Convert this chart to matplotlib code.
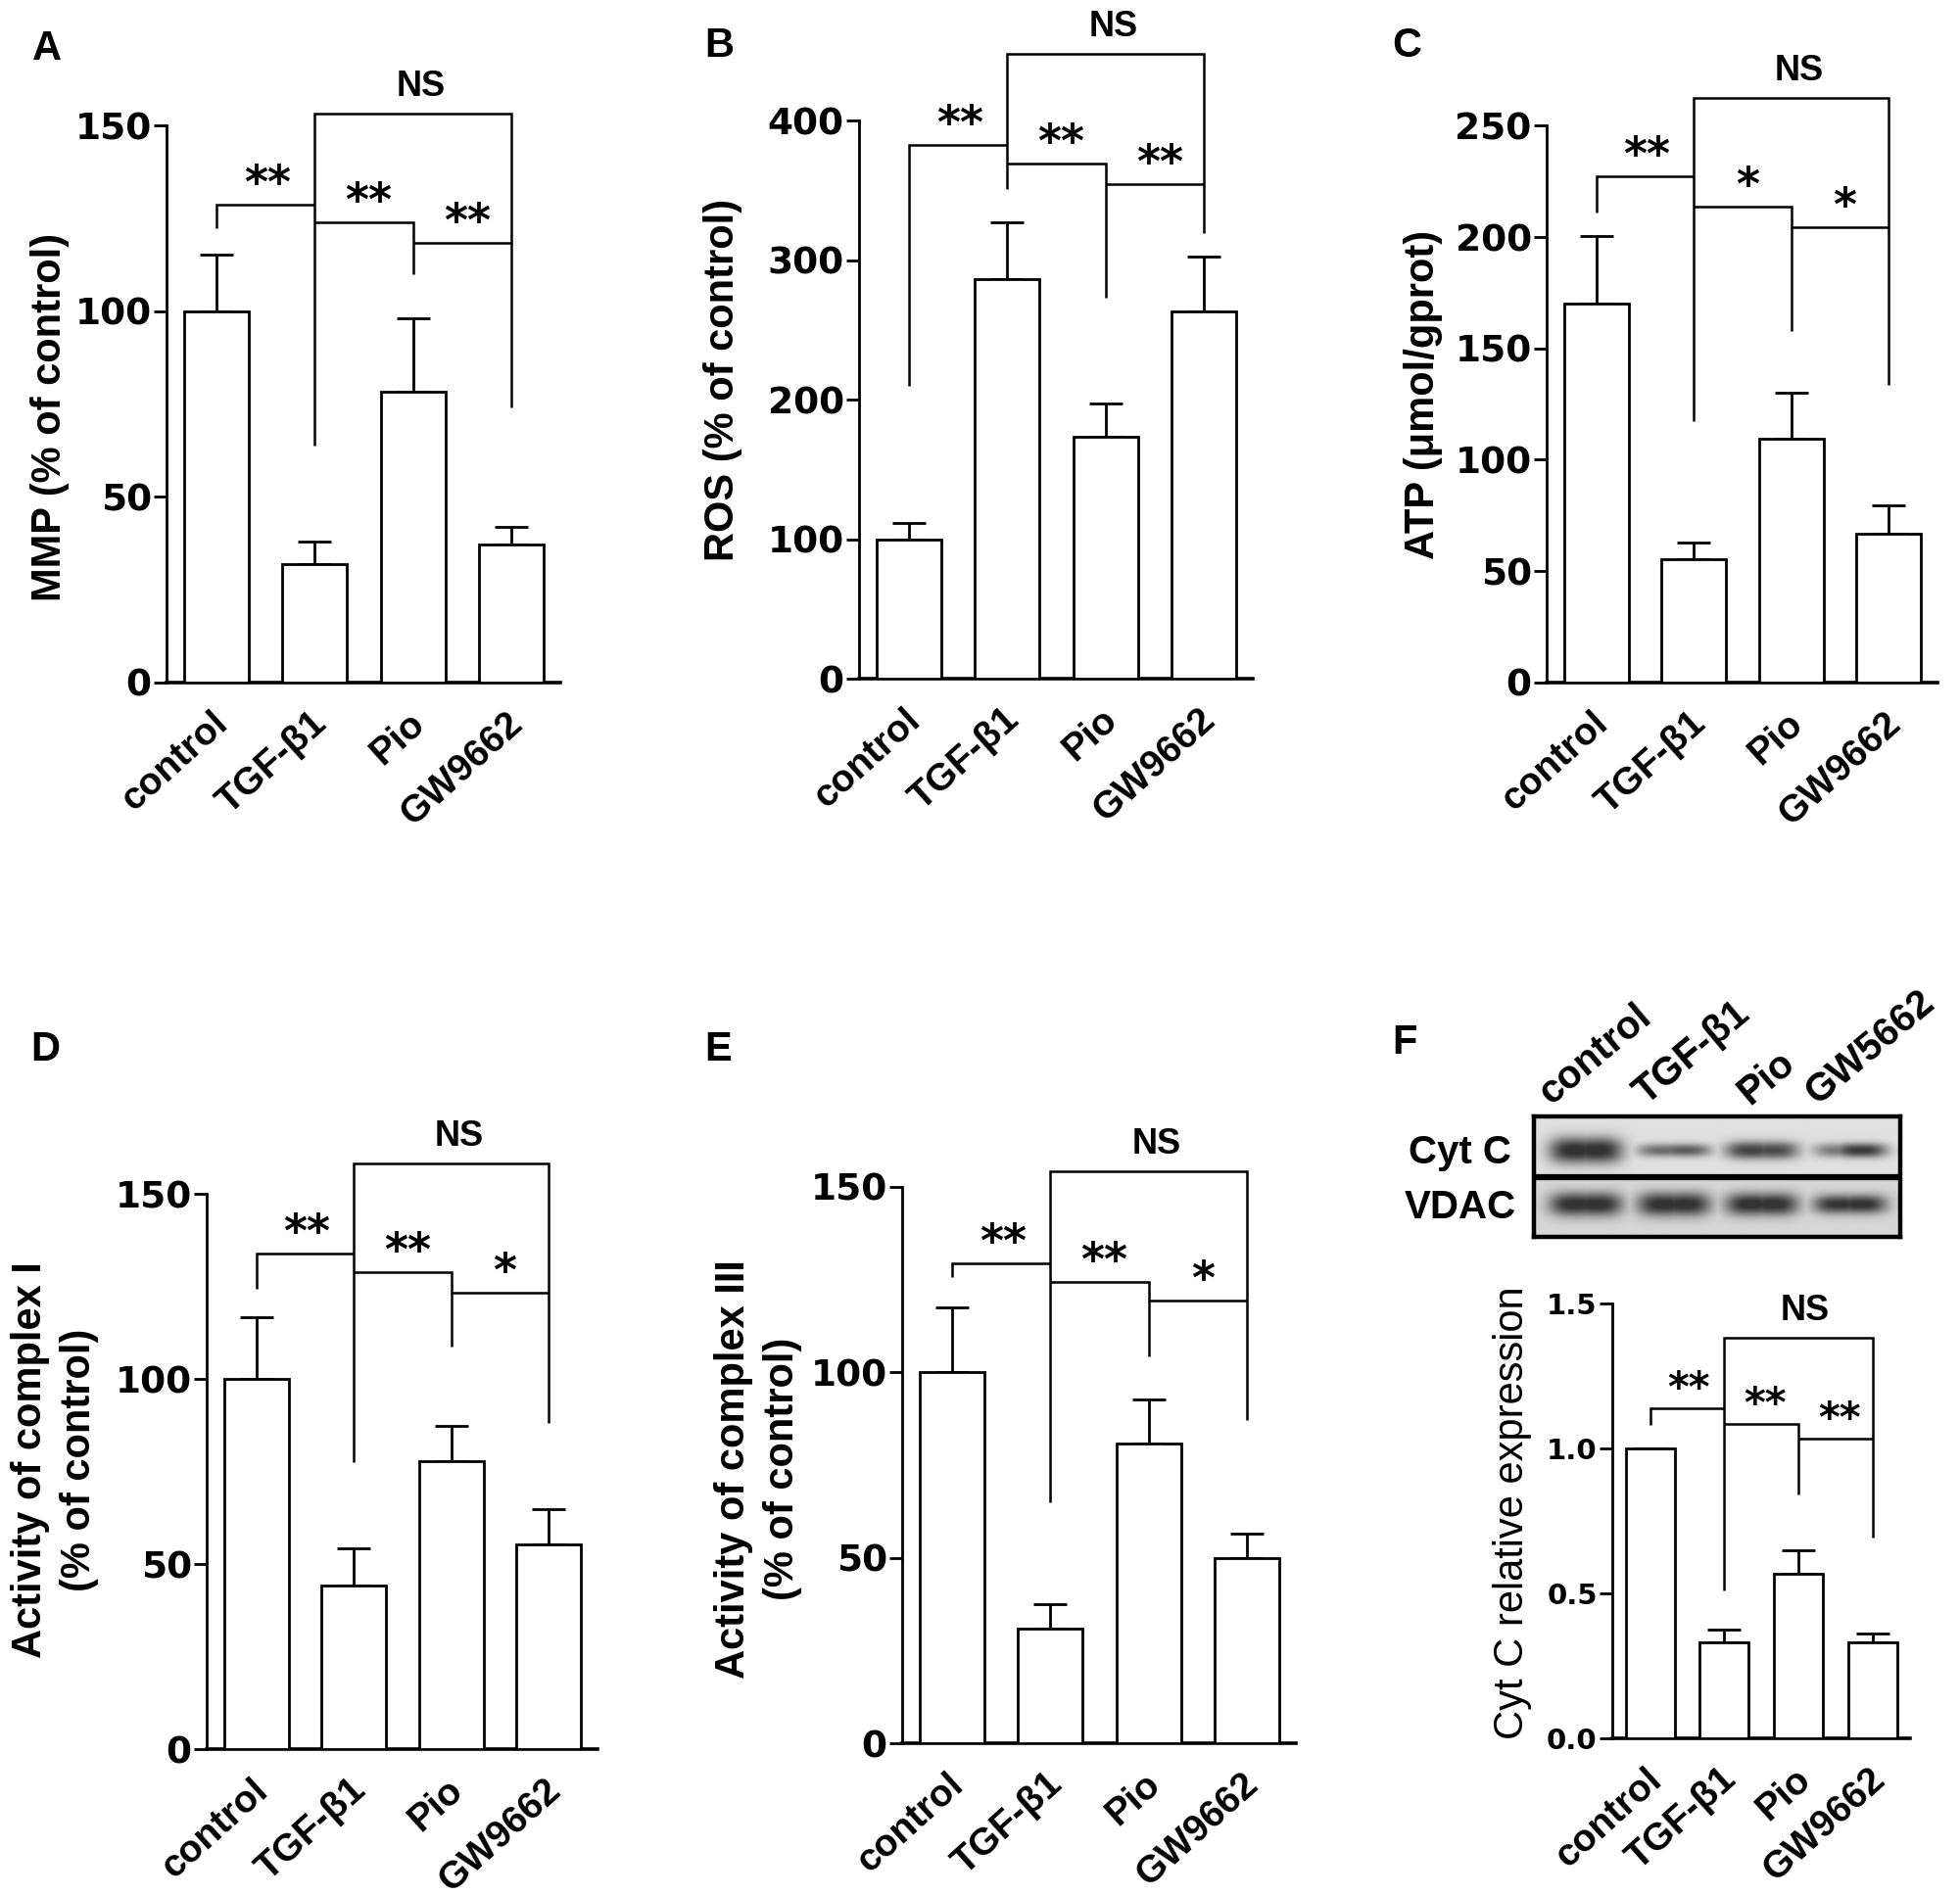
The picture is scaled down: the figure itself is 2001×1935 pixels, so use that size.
import numpy as np
import matplotlib
matplotlib.use('Agg')
import matplotlib.pyplot as plt
from matplotlib.transforms import ScaledTranslation

# ---------------- data ----------------
groups = ['control', 'TGF-β1', 'Pio', 'GW9662']
blot_lanes = ['control', 'TGF-β1', 'Pio', 'GW5662']

mmp_mean = [100, 31.9, 78.3, 37.2]
mmp_sem = [15.2, 6.1, 19.7, 4.8]
ros_mean = [100, 286.5, 173, 263.5]
ros_sem = [11.5, 40.5, 24, 39.2]
atp_mean = [169.9, 55.3, 109.3, 66.8]
atp_sem = [30.6, 7.4, 21.0, 12.8]
c1_mean = [100, 44.2, 77.7, 55.4]
c1_sem = [16.7, 10.0, 9.5, 9.5]
c3_mean = [100, 30.8, 80.8, 50.0]
c3_sem = [17.4, 6.6, 11.8, 6.6]
cytc_mean = [1.0, 0.332, 0.568, 0.332]
cytc_sem = [0.0, 0.043, 0.080, 0.031]

# significance marks: control-TGF, TGF-Pio, Pio-GW ; NS for TGF-GW
mmp_stars = ['**', '**', '**']
ros_stars = ['**', '**', '**']
atp_stars = ['**', '*', '*']
c1_stars = ['**', '**', '*']
c3_stars = ['**', '**', '*']
cytc_stars = ['**', '**', '**']

# bracket levels (data units): ns, tgf_bottom, gw_bottom, h1, ctrl_bottom, h2, pio_bottom, h3
mmp_brk = [153.2, 63.8, 74.2, 128.7, 122.5, 123.9, 110.1, 118.4]
ros_brk = [448, 351, 319, 382.7, 209.6, 369, 273, 354.6]
atp_brk = [262.3, 117.5, 133.7, 227.3, 211.2, 213.8, 158, 204.6]
c1_brk = [158.1, 77.4, 88.1, 133.9, 124.4, 128.8, 108.6, 123.3]
c3_brk = [154.1, 65.0, 87.1, 129.3, 125.7, 124.4, 104.4, 119.4]
cytc_brk = [1.382, 0.511, 0.694, 1.138, 1.082, 1.085, 0.842, 1.035]

# western blot band intensities (relative darkness)
cytc_left_amp = [0.97, 0.62, 0.84, 0.55]
cytc_right_amp = [0.97, 0.70, 0.80, 0.90]
cytc_thick = [0.22, 0.11, 0.15, 0.12]
vdac_left_amp = [0.97, 0.97, 0.97, 0.93]
vdac_right_amp = [0.97, 0.97, 0.97, 0.95]
vdac_thick = [0.20, 0.20, 0.19, 0.16]

W, H = 2001, 1935
fig = plt.figure(figsize=(W / 100, H / 100), dpi=100)
fig.patch.set_facecolor('white')

TXT = 'Liberation Sans'
NUM = 'DejaVu Sans'
STAR = 'DejaVu Sans'
LW = 2.0


def rect(left, right, zero, top):
    return [left / W, (H - zero) / H, (right - left) / W, (zero - top) / H]


def panel(r, mean, sem, ymax, ystep, stars, brk, ylabel, lab_xy, letter, letter_xy,
          tickfs=27, ylabfs=30, ylab_weight='bold', tickfmt=None, star_fs=33, ns_fs=26,
          linesp=1.2):
    ax = fig.add_axes(r)
    x = np.arange(len(groups))
    ax.bar(x, mean, width=0.66, color='white', edgecolor='black', linewidth=LW, zorder=3)
    ax.errorbar(x, mean, yerr=[np.zeros(len(sem)), sem], fmt='none', ecolor='black',
                elinewidth=LW, capsize=12, capthick=LW, zorder=2)
    ax.set_xlim(-0.51, 3.5)
    ax.set_ylim(0, ymax)
    for s in ['top', 'right']:
        ax.spines[s].set_visible(False)
    ax.spines['left'].set_linewidth(LW)
    ax.spines['bottom'].set_linewidth(LW + 0.6)
    ax.spines['left'].set_bounds(0, ymax)
    ticks = np.arange(0, ymax + ystep / 2, ystep)
    ax.set_yticks(ticks)
    if tickfmt:
        ax.set_yticklabels([tickfmt.format(t) for t in ticks])
    ax.tick_params(axis='y', length=9.5, width=LW, pad=1.5, labelsize=tickfs)
    for t in ax.get_yticklabels():
        t.set_fontweight('bold')
        t.set_family(NUM)
    ax.set_xticks(x)
    ax.set_xticklabels(groups, rotation=42, ha='right', va='top', rotation_mode='anchor',
                       fontsize=28, fontweight='bold', family=TXT)
    ax.tick_params(axis='x', length=0, pad=17)
    off = ScaledTranslation(-0.05, 0, fig.dpi_scale_trans)
    for t in ax.get_xticklabels():
        t.set_transform(t.get_transform() + off)

    # brackets
    ns, tgf_b, gw_b, h1, c_b, h2, p_b, h3 = brk
    kw = dict(color='black', lw=1.8, clip_on=False, solid_capstyle='butt',
              solid_joinstyle='miter', zorder=4)
    ax.plot([1, 1, 3, 3], [tgf_b, ns, ns, gw_b], **kw)
    ax.plot([0, 0, 1], [c_b, h1, h1], **kw)
    ax.plot([1, 2, 2], [h2, h2, p_b], **kw)
    ax.plot([2, 3], [h3, h3], **kw)
    for (xm, yl), s in zip([(0.52, h1), (1.55, h2), (2.55, h3)], stars):
        ax.annotate(s, xy=(xm, yl), xytext=(0, 5), textcoords='offset points',
                    ha='center', va='baseline', fontsize=star_fs, fontweight='bold',
                    family=STAR, annotation_clip=False)
    ax.annotate('NS', xy=(2.08, ns), xytext=(0, 13), textcoords='offset points',
                ha='center', va='baseline', fontsize=ns_fs, fontweight='bold',
                family=TXT, annotation_clip=False)

    fig.text(lab_xy[0] / W, 1 - lab_xy[1] / H, ylabel, rotation=90, ha='center',
             va='center', fontsize=ylabfs, fontweight=ylab_weight, family=TXT,
             linespacing=linesp, multialignment='center')
    fig.text(letter_xy[0] / W, 1 - letter_xy[1] / H, letter, ha='center', va='center',
             fontsize=30, fontweight='bold', family=TXT)
    return ax


panel(rect(170, 572, 696.7, 128.5), mmp_mean, mmp_sem, 150, 50, mmp_stars, mmp_brk,
      'MMP (% of control)', (51, 426), 'A', (48, 50))
panel(rect(877, 1279, 693, 123), ros_mean, ros_sem, 400, 100, ros_stars, ros_brk,
      'ROS (% of control)', (738, 388), 'B', (734, 47))
panel(rect(1579, 1978, 696.7, 128.4), atp_mean, atp_sem, 250, 50, atp_stars, atp_brk,
      'ATP (μmol/gprot)', (1453, 403), 'C', (1436, 47))
panel(rect(211, 610, 1786, 1219), c1_mean, c1_sem, 150, 50, c1_stars, c1_brk,
      'Activity of complex I\n(% of control)', (56, 1491), 'D', (46, 1072), linesp=1.35)
panel(rect(921, 1323, 1780, 1212), c3_mean, c3_sem, 150, 50, c3_stars, c3_brk,
      'Activity of complex III\n(% of control)', (774, 1500), 'E', (733, 1072), linesp=1.35)
panel(rect(1646, 1950, 1775, 1331), cytc_mean, cytc_sem, 1.5, 0.5, cytc_stars, cytc_brk,
      'Cyt C relative expression', (1544, 1545), 'F', (1434, 1065), tickfs=21,
      ylab_weight='normal', tickfmt='{:.1f}', star_fs=30, ns_fs=26)

# ---------------- western blot ----------------
bx = fig.add_axes(rect(1566, 1940, 1263, 1140))
lane_x0, lane_dx = 1619, 90
xl = (1566 - lane_x0) / lane_dx
xr = (1940 - lane_x0) / lane_dx
nx, ny = 500, 200
xs = np.linspace(xl, xr, nx)
ys = np.linspace(2, 0, ny)
XX, YY = np.meshgrid(xs, ys)
img = np.where(YY > 1, 0.88, 0.84)


def band(cx, cy, la, ra, th):
    lobe_l = la * np.exp(-np.abs((XX - (cx - 0.12)) / 0.30) ** 3)
    lobe_r = ra * np.exp(-np.abs((XX - (cx + 0.12)) / 0.30) ** 3)
    prof_x = np.maximum(lobe_l, lobe_r)
    prof_y = np.exp(-np.abs((YY - cy) / th) ** 2.2)
    return np.clip(prof_x * prof_y * 1.08, 0, 1)


dark_c = np.zeros_like(XX)
dark_v = np.zeros_like(XX)
for i in range(4):
    dark_c = np.maximum(dark_c, band(i, 1.44, cytc_left_amp[i], cytc_right_amp[i], cytc_thick[i]))
    dark_v = np.maximum(dark_v, band(i, 0.54, vdac_left_amp[i], vdac_right_amp[i], vdac_thick[i]))
dark = np.maximum(dark_c, dark_v)
img = img - (img - 0.2) * dark
bx.imshow(img, cmap='gray', vmin=0, vmax=1, extent=[xl, xr, 0, 2], aspect='auto',
          interpolation='bilinear')
bx.set_xlim(xl, xr)
bx.set_ylim(0, 2)
bx.set_xticks([])
bx.set_yticks([])
for s in bx.spines.values():
    s.set_linewidth(3.2)
bx.axhline(1, color='black', lw=4.5)
blot_label_shift = [-0.40, -0.32, -0.14, -0.37]
for i, name in enumerate(blot_lanes):
    bx.annotate(name, xy=(i + blot_label_shift[i], 2), xycoords='data', xytext=(0, 8),
                textcoords='offset points', rotation=40, rotation_mode='anchor',
                ha='left', va='baseline', fontsize=29, fontweight='bold', family=TXT,
                annotation_clip=False)
fig.text(1543 / W, 1 - 1177 / H, 'Cyt C', ha='right', va='center', fontsize=29,
         fontweight='bold', family=TXT)
fig.text(1548 / W, 1 - 1233 / H, 'VDAC', ha='right', va='center', fontsize=29,
         fontweight='bold', family=TXT)

fig.savefig('out.png', dpi=100, facecolor='white')
